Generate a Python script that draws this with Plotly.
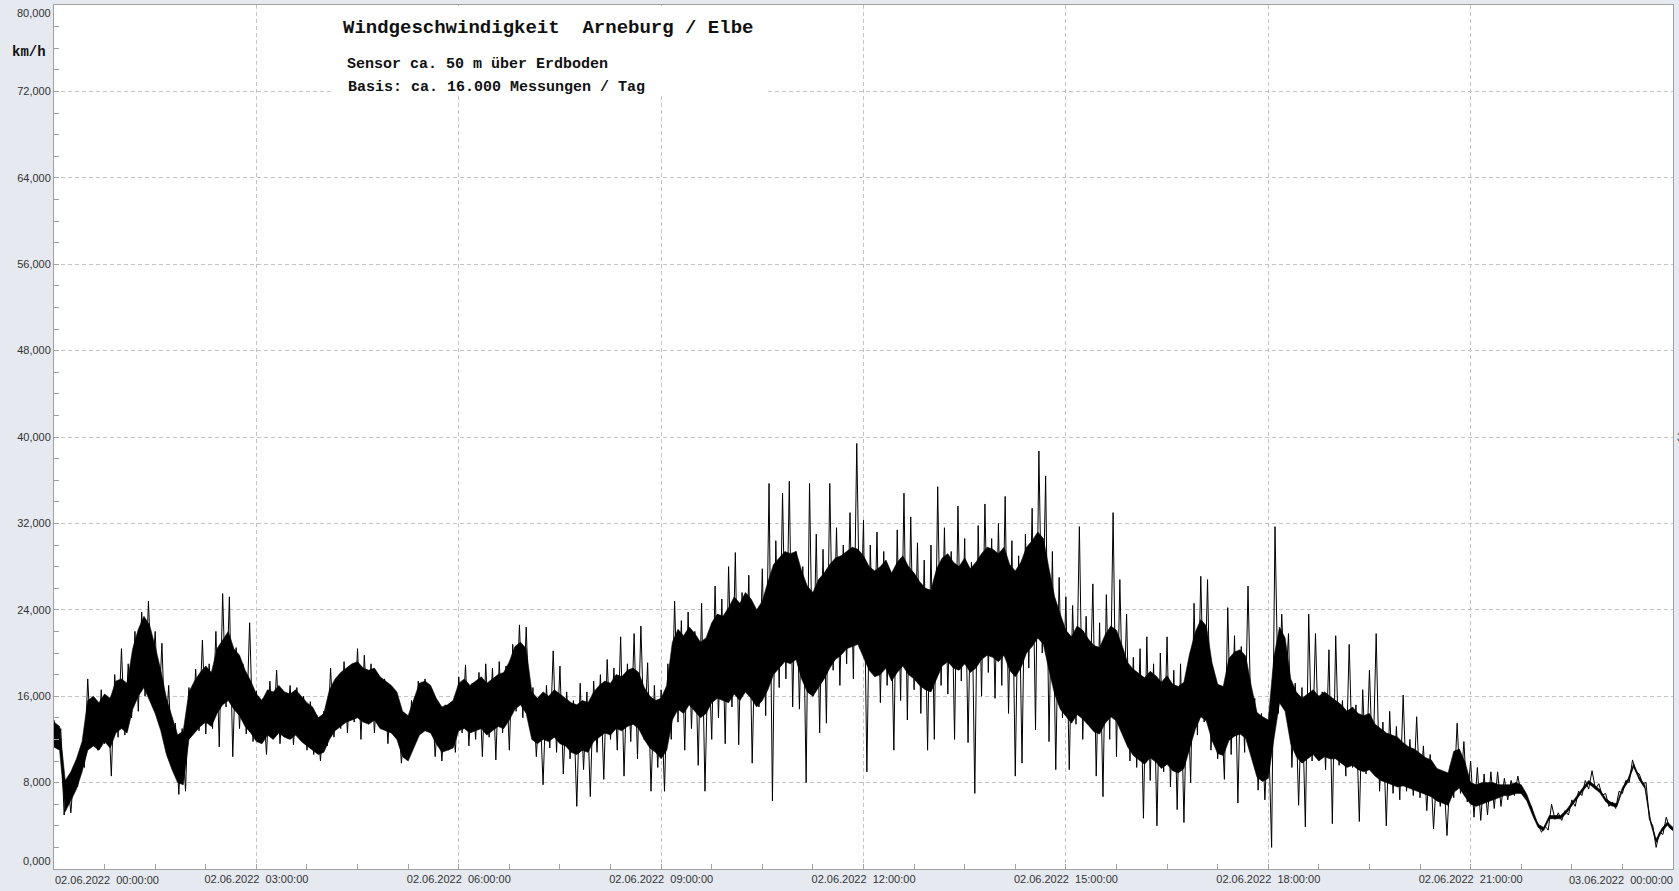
import numpy as np
import pandas as pd
import plotly.graph_objects as go

# ---------------- data ----------------
START = "2022-06-02 00:00:00"
END = "2022-06-03 00:00:00"
STEP_MIN = 3          # spacing of the wind samples below
CORE_STEP_MIN = 5     # spacing of the dense core band

# wind speed km/h, 3-minute samples (alternating peaks / troughs)
wind_kmh = [
    # 00h
    13.8, 11.2, 13.0, 5.0, 8.3, 5.2, 9.5, 7.6, 11.0, 9.4, 17.6, 11.4, 15.2, 11.0, 16.6, 11.6, 15.4, 8.6, 18.0, 12.2,
    # 01h
    20.4, 12.4, 19.0, 14.0, 22.0, 14.6, 23.8, 16.0, 24.8, 17.0, 22.0, 14.0, 20.9, 11.5, 17.0, 9.5, 13.5, 6.9, 13.0, 7.2,
    # 02h
    16.8, 12.4, 18.5, 12.8, 21.2, 12.5, 19.0, 13.0, 22.0, 11.3, 25.5, 15.0, 25.2, 10.4, 20.5, 13.0, 19.0, 12.5, 22.8, 11.8,
    # 03h
    16.5, 12.0, 15.8, 10.6, 17.4, 12.4, 18.4, 11.6, 16.4, 12.8, 17.0, 11.5, 16.8, 12.3, 16.0, 11.0, 15.5, 10.6, 14.2, 10.0,
    # 04h
    14.6, 11.4, 18.6, 12.2, 17.6, 13.0, 19.2, 12.6, 18.4, 13.6, 20.4, 12.0, 19.8, 14.0, 19.0, 12.6, 18.0, 13.2, 17.6, 11.6,
    # 05h
    16.8, 12.4, 14.6, 9.8, 13.8, 10.2, 15.6, 11.8, 17.4, 12.6, 17.6, 13.0, 16.6, 10.4, 14.8, 10.0, 15.2, 11.0, 14.6, 10.8,
    # 06h
    17.8, 12.6, 18.9, 11.4, 17.2, 12.0, 18.2, 10.4, 19.0, 12.2, 18.6, 10.1, 19.2, 12.6, 18.8, 11.0, 20.8, 14.6, 22.6, 14.0,
    # 07h
    22.4, 13.2, 16.8, 10.4, 15.8, 7.8, 17.0, 11.2, 20.2, 10.8, 18.8, 8.8, 16.4, 10.2, 15.6, 5.8, 17.2, 9.2, 16.4, 6.7,
    # 08h
    17.4, 10.8, 18.0, 8.3, 19.4, 12.0, 18.6, 11.0, 21.5, 8.6, 19.0, 11.8, 21.8, 10.2, 22.5, 12.0, 19.1, 7.2, 17.0, 9.4,
    # 09h
    16.6, 7.2, 19.0, 12.0, 24.8, 13.6, 23.0, 11.0, 23.8, 13.0, 22.0, 9.6, 24.6, 7.2, 21.0, 12.0, 26.2, 14.0, 25.0, 11.6,
    # 10h
    28.0, 15.0, 29.3, 11.5, 25.6, 16.4, 27.2, 9.8, 23.6, 15.0, 27.8, 14.2, 35.7, 6.3, 30.4, 16.8, 34.8, 17.6, 35.9, 15.0,
    # 11h
    29.4, 14.8, 28.0, 8.0, 35.7, 16.0, 31.0, 12.6, 29.6, 13.5, 35.7, 18.4, 31.6, 17.0, 30.0, 19.0, 33.0, 17.6, 39.4, 20.4,
    # 12h
    32.3, 9.0, 30.0, 18.6, 31.2, 15.4, 29.4, 17.0, 27.0, 11.0, 31.4, 15.6, 34.8, 13.8, 32.6, 16.6, 30.2, 14.4, 28.6, 11.0,
    # 13h
    30.0, 12.0, 35.4, 17.0, 31.6, 16.2, 29.4, 12.0, 33.6, 17.4, 30.6, 11.7, 28.4, 7.0, 31.8, 16.0, 33.8, 18.2, 30.6, 15.8,
    # 14h
    32.0, 17.0, 34.5, 14.4, 30.4, 8.6, 29.0, 9.8, 31.0, 18.6, 33.4, 12.9, 38.7, 20.0, 36.4, 11.8, 29.4, 9.2, 27.0, 14.0,
    # 15h
    25.2, 9.2, 24.4, 13.4, 31.7, 12.0, 23.4, 14.2, 26.4, 8.6, 22.8, 6.7, 25.4, 12.0, 33.0, 10.4, 26.8, 13.0, 23.6, 10.0,
    # 16h
    19.6, 9.4, 20.4, 4.7, 21.5, 8.2, 19.0, 4.0, 20.0, 9.0, 21.5, 7.6, 18.4, 5.5, 19.0, 4.3, 17.6, 8.0, 24.6, 12.4,
    # 17h
    27.1, 13.6, 26.8, 11.0, 16.6, 10.2, 15.4, 8.3, 24.2, 10.6, 21.6, 6.1, 20.6, 10.8, 26.2, 12.0, 15.8, 7.3, 14.4, 6.4,
    # 18h
    13.8, 2.0, 31.7, 14.4, 23.6, 15.6, 21.8, 9.4, 17.2, 5.9, 16.8, 3.9, 23.6, 10.0, 21.8, 10.6, 16.4, 9.2, 20.3, 4.2,
    # 19h
    21.6, 9.6, 15.6, 8.6, 20.8, 9.4, 15.2, 4.4, 16.6, 8.8, 18.4, 9.0, 21.8, 7.2, 13.6, 4.0, 14.6, 7.0, 13.2, 6.4,
    # 20h
    16.1, 7.2, 12.0, 6.8, 14.1, 6.6, 11.4, 5.4, 10.6, 3.7, 9.2, 5.8, 8.8, 3.1, 9.6, 6.6, 13.5, 7.0, 11.8, 6.2,
    # 21h
    10.0, 4.8, 9.4, 4.5, 8.8, 5.0, 9.0, 5.6, 9.0, 5.8, 8.4, 6.4, 8.2, 6.8, 8.6, 7.0, 7.2, 6.2, 5.8, 4.6,
    # 22h
    4.2, 3.4, 4.0, 3.6, 6.0, 4.6, 5.2, 4.5, 5.4, 5.0, 6.4, 5.8, 7.2, 6.8, 8.2, 7.4, 9.1, 7.4, 7.9, 6.8,
    # 23h
    7.0, 5.8, 6.2, 5.6, 7.2, 7.0, 8.2, 8.0, 10.1, 9.0, 8.8, 7.9, 8.0, 4.6, 4.0, 2.0, 3.4, 3.2, 4.8, 3.8,
    # 24h
    3.6,
]

# dense core of the signal, 5-minute samples (lower / upper edge, km/h)
core_low = [
    11.3, 11.0, 5.3, 6.4, 7.4, 9.0, 11.0, 11.4, 11.0, 11.8, 11.2, 12.6,          # 00h
    13.0, 12.6, 14.8, 16.0, 16.8, 15.6, 14.4, 12.8, 10.6, 9.2, 8.0, 7.8,          # 01h
    12.0, 12.6, 13.2, 13.6, 13.2, 14.4, 15.2, 15.6, 14.8, 14.2, 13.2, 12.6,       # 02h
    11.8, 11.6, 12.4, 12.0, 12.6, 12.2, 12.0, 12.4, 11.8, 11.4, 11.0, 10.6,       # 03h
    10.8, 12.0, 12.8, 13.2, 13.6, 13.8, 14.0, 13.6, 13.4, 13.8, 13.0, 12.8,       # 04h
    12.6, 12.0, 10.4, 10.0, 11.2, 12.4, 12.8, 12.6, 11.6, 10.8, 11.0, 11.2,       # 05h
    12.8, 13.0, 12.6, 12.8, 13.0, 12.4, 12.8, 13.2, 13.0, 13.8, 14.8, 15.2,       # 06h
    14.4, 12.0, 11.6, 12.0, 11.8, 12.2, 11.6, 11.4, 10.8, 10.6, 11.0, 10.8,       # 07h
    11.8, 12.2, 12.6, 12.4, 13.0, 12.8, 13.2, 13.4, 13.0, 12.0, 11.2, 10.8,       # 08h
    10.2, 11.0, 13.8, 14.8, 14.4, 15.2, 14.6, 14.0, 14.4, 15.4, 15.8, 15.6,       # 09h
    15.4, 16.2, 15.6, 16.4, 15.8, 15.0, 15.6, 16.6, 18.0, 18.6, 19.2, 19.0,       # 10h
    19.4, 17.6, 16.4, 16.0, 16.8, 17.6, 18.6, 19.4, 19.8, 20.4, 20.6, 20.8,       # 11h
    19.6, 18.4, 17.8, 18.0, 18.6, 17.4, 18.2, 18.8, 18.0, 17.6, 17.0, 16.6,       # 12h
    16.4, 17.6, 18.8, 19.2, 18.6, 18.4, 19.0, 18.2, 18.6, 19.4, 19.8, 19.6,       # 13h
    19.2, 19.8, 18.4, 17.8, 18.6, 20.0, 20.6, 21.4, 20.8, 18.4, 16.2, 14.8,       # 14h
    14.1, 13.5, 14.3, 13.9, 13.3, 12.7, 12.5, 13.5, 14.1, 13.7, 12.5, 11.3,       # 15h
    10.5, 10.1, 9.7, 10.3, 9.9, 9.3, 9.7, 9.1, 8.9, 9.3, 11.1, 12.9,              # 16h
    14.1, 13.7, 11.9, 10.7, 10.5, 11.9, 12.3, 12.5, 12.1, 10.3, 8.5, 8.1,         # 17h
    8.4, 12.0, 15.4, 14.6, 11.6, 10.4, 9.8, 10.2, 10.6, 10.0, 10.4, 10.2,         # 18h
    10.2, 9.8, 9.4, 9.6, 9.2, 9.0, 9.2, 8.6, 8.2, 8.0, 7.8, 7.6,                  # 19h
    7.7, 7.5, 7.3, 7.1, 6.9, 6.7, 6.3, 6.1, 5.9, 7.1, 7.5, 6.7,                   # 20h
    6.0, 5.8, 6.0, 6.2, 6.4, 6.6, 6.8, 6.8, 7.0, 7.0, 6.3, 5.0,                   # 21h
    3.85, 3.55, 4.65, 4.65, 4.65, 5.15, 5.85, 6.65, 7.25, 7.9, 7.45, 7.05,        # 22h
    6.25, 5.85, 5.75, 7.25, 8.05, 9.45, 8.25, 7.45, 4.25, 2.45, 3.45, 4.05,       # 23h
    3.55,
]
core_high = [
    13.6, 13.2, 8.2, 9.0, 10.2, 11.8, 15.6, 16.0, 15.4, 16.2, 15.8, 17.4,         # 00h
    17.6, 17.2, 20.4, 22.2, 23.4, 22.6, 20.6, 18.4, 15.8, 14.0, 12.4, 12.8,       # 01h
    16.4, 17.4, 18.2, 18.8, 18.2, 20.4, 21.2, 22.0, 20.4, 19.8, 18.4, 17.4,       # 02h
    16.2, 15.6, 16.6, 16.4, 17.0, 16.4, 16.2, 16.6, 16.0, 15.4, 15.0, 14.0,       # 03h
    14.4, 16.6, 17.6, 18.2, 18.6, 19.0, 19.2, 18.6, 18.4, 18.6, 17.8, 17.4,       # 04h
    17.0, 16.4, 14.6, 14.2, 15.8, 17.2, 17.4, 17.0, 15.8, 15.0, 15.2, 15.6,       # 05h
    17.2, 17.6, 17.0, 17.4, 17.8, 17.2, 17.6, 18.0, 18.2, 19.2, 20.6, 21.0,       # 06h
    20.4, 16.4, 15.8, 16.4, 16.0, 16.6, 16.2, 15.8, 15.4, 15.2, 15.6, 15.4,       # 07h
    16.4, 17.0, 17.4, 17.2, 18.0, 17.8, 18.4, 18.6, 18.2, 16.8, 16.0, 15.6,       # 08h
    15.8, 17.0, 21.0, 22.2, 21.6, 22.4, 21.8, 21.0, 21.4, 22.8, 23.6, 23.4,       # 09h
    24.2, 25.2, 24.6, 25.6, 25.0, 24.0, 24.8, 26.6, 28.2, 28.8, 29.4, 29.2,       # 10h
    29.4, 27.6, 26.2, 25.6, 26.8, 27.4, 28.2, 28.8, 29.0, 29.4, 29.8, 29.6,       # 11h
    29.0, 28.0, 27.6, 28.0, 28.6, 27.4, 28.4, 29.0, 28.0, 27.4, 26.6, 26.0,       # 12h
    25.8, 27.8, 28.8, 29.2, 28.4, 28.0, 28.8, 27.8, 28.4, 29.2, 29.8, 29.6,       # 13h
    29.2, 29.8, 28.2, 27.6, 28.4, 29.8, 30.4, 31.2, 30.6, 27.8, 25.2, 23.6,       # 14h
    22.1, 21.5, 22.5, 22.1, 21.3, 20.7, 20.5, 21.7, 22.5, 22.1, 20.7, 19.1,       # 15h
    18.5, 18.1, 17.7, 18.3, 17.9, 17.3, 17.9, 17.1, 16.9, 17.3, 19.9, 21.9,       # 16h
    23.1, 22.5, 19.1, 17.1, 16.9, 19.5, 20.1, 20.3, 19.7, 16.9, 14.5, 14.1,       # 17h
    13.8, 19.6, 22.4, 21.4, 17.6, 16.4, 15.8, 16.2, 16.6, 16.0, 16.4, 16.0,       # 18h
    15.6, 15.2, 14.6, 15.0, 14.4, 14.2, 14.4, 13.4, 13.0, 12.6, 12.4, 12.2,       # 19h
    11.7, 11.3, 11.1, 10.7, 10.3, 10.1, 9.3, 9.1, 8.9, 10.9, 11.1, 9.9,           # 20h
    8.0, 7.8, 8.0, 8.0, 8.0, 7.8, 7.8, 7.8, 8.0, 7.8, 6.9, 5.5,                   # 21h
    4.15, 3.85, 4.95, 4.95, 4.95, 5.45, 6.15, 6.95, 7.55, 8.2, 7.75, 7.35,        # 22h
    6.55, 6.15, 6.05, 7.55, 8.35, 9.75, 8.55, 7.75, 4.55, 2.75, 3.75, 4.35,       # 23h
    3.85,
]

x_tick_hours = [3, 6, 9, 12, 15, 18, 21]
x_tick_labels = ["02.06.2022\u00a0\u00a003:00:00", "02.06.2022\u00a0\u00a006:00:00", "02.06.2022\u00a0\u00a009:00:00",
                 "02.06.2022\u00a0\u00a012:00:00", "02.06.2022\u00a0\u00a015:00:00", "02.06.2022\u00a0\u00a018:00:00",
                 "02.06.2022\u00a0\u00a021:00:00"]
x_edge_labels = ["02.06.2022\u00a0\u00a000:00:00", "03.06.2022\u00a0\u00a000:00:00"]
y_tick_values = [8, 16, 24, 32, 40, 48, 56, 64, 72]
y_tick_labels = ["8,000", "16,000", "24,000", "32,000", "40,000", "48,000", "56,000", "64,000", "72,000"]
y_edge_labels = ["0,000", "80,000"]

title_text = "Windgeschwindigkeit\u00a0\u00a0Arneburg / Elbe"
subtitle_1 = "Sensor ca. 50 m über Erdboden"
subtitle_2 = "Basis: ca. 16.000 Messungen / Tag"
unit_text = "km/h"

# ---------------- figure ----------------
W, H = 1679, 891
ML, MR, MT, MB = 54, 6, 5, 22
PW, PH = W - ML - MR, H - MT - MB


def px_x(x):
    return (x - ML) / PW


def px_y(y):
    return 1 - (y - MT) / PH


t0 = pd.Timestamp(START)
t_wind = t0 + pd.to_timedelta(np.arange(len(wind_kmh)) * STEP_MIN, unit="min")
t_core = t0 + pd.to_timedelta(np.arange(len(core_low)) * CORE_STEP_MIN, unit="min")
tick_vals = [t0 + pd.Timedelta(hours=h) for h in x_tick_hours]

fig = go.Figure()
fig.add_trace(go.Scatter(x=t_core, y=core_low, mode="lines", line=dict(width=0.6, color="black"),
                         hoverinfo="skip", showlegend=False))
fig.add_trace(go.Scatter(x=t_core, y=core_high, mode="lines", line=dict(width=0.6, color="black"),
                         fill="tonexty", fillcolor="black", hoverinfo="skip", showlegend=False))
fig.add_trace(go.Scatter(x=t_wind, y=wind_kmh, mode="lines", line=dict(width=1.0, color="black"),
                         showlegend=False))

grid_col = "#c4c4c4"
axis_col = "#a0a0a0"
tick_font = dict(family="Liberation Sans, Arial, sans-serif", size=11, color="#333333")
mono = "Liberation Mono, Courier New, monospace"

fig.update_xaxes(
    type="date", range=[START, END],
    tickmode="array", tickvals=tick_vals, ticktext=x_tick_labels,
    ticks="inside", ticklen=5, tickcolor=axis_col,
    showgrid=True, gridcolor=grid_col, griddash="4px,3px", gridwidth=1,
    showline=True, linecolor=axis_col, linewidth=1, mirror=True,
    tickfont=tick_font, zeroline=False,
    minor=dict(dtick=45 * 60 * 1000, tick0=START, ticks="inside", ticklen=5, tickcolor=axis_col, showgrid=False),
)
fig.update_yaxes(
    range=[0, 80],
    tickmode="array", tickvals=y_tick_values, ticktext=y_tick_labels,
    ticks="inside", ticklen=5, tickcolor=axis_col,
    showgrid=True, gridcolor=grid_col, griddash="4px,3px", gridwidth=1,
    showline=True, linecolor=axis_col, linewidth=1, mirror=True,
    tickfont=tick_font, zeroline=False,
    minor=dict(dtick=2, tick0=0, ticks="inside", ticklen=5, tickcolor=axis_col, showgrid=False),
)

shapes = [dict(type="rect", xref="paper", yref="paper", x0=px_x(332), x1=px_x(766), y0=px_y(93), y1=px_y(MT + 1),
               fillcolor="white", line=dict(width=0), layer="above")]

ann = []
ann.append(dict(text=f"<b>{title_text}</b>", x=px_x(341), y=px_y(28), xanchor="left", yanchor="middle",
                font=dict(family=mono, size=19, color="#111111")))
ann.append(dict(text=f"<b>{subtitle_1}</b>", x=px_x(345), y=px_y(65), xanchor="left", yanchor="middle",
                font=dict(family=mono, size=15, color="#111111")))
ann.append(dict(text=f"<b>{subtitle_2}</b>", x=px_x(346), y=px_y(87), xanchor="left", yanchor="middle",
                font=dict(family=mono, size=15, color="#111111")))
ann.append(dict(text=f"<b>{unit_text}</b>", x=px_x(29), y=px_y(52), xanchor="center", yanchor="middle",
                font=dict(family=mono, size=14, color="#111111")))
ann.append(dict(text=y_edge_labels[0], x=px_x(53), y=px_y(869), xanchor="right", yanchor="bottom",
                font=tick_font))
ann.append(dict(text=y_edge_labels[1], x=px_x(53), y=px_y(5), xanchor="right", yanchor="top",
                font=tick_font))
ann.append(dict(text=x_edge_labels[0], x=px_x(53), y=px_y(880), xanchor="left", yanchor="middle",
                font=tick_font))
ann.append(dict(text=x_edge_labels[1], x=px_x(1675), y=px_y(880), xanchor="right", yanchor="middle",
                font=tick_font))
ann.append(dict(text="3", x=px_x(1675), y=px_y(437), xanchor="left", yanchor="middle",
                font=dict(family="Liberation Sans, Arial", size=10, color="#333333")))
for a in ann:
    a.update(xref="paper", yref="paper", showarrow=False)

fig.update_layout(
    width=W, height=H, autosize=False,
    margin=dict(l=ML, r=MR, t=MT, b=MB, pad=0),
    paper_bgcolor="#e6e9f0", plot_bgcolor="white",
    separators=",.",
    shapes=shapes, annotations=ann,
    showlegend=False,
)

fig.write_html("out.html", config={"displayModeBar": False},
               post_script="document.body.style.margin='0';document.body.style.overflow='hidden';")
